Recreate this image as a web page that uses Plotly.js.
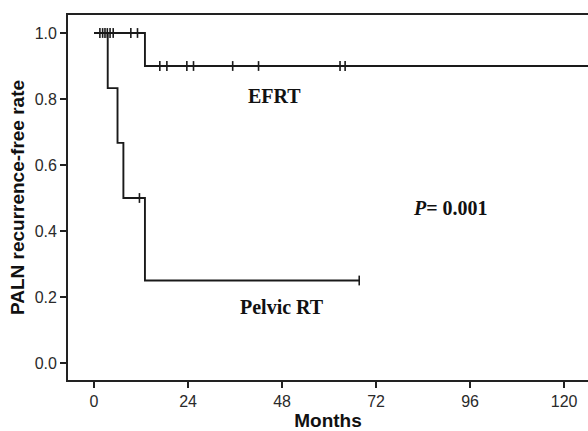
<!DOCTYPE html>
<html>
<head>
<meta charset="utf-8">
<script src="https://cdn.plot.ly/plotly-3.0.1.min.js"></script>
<style>html,body{margin:0;padding:0;background:#fff;overflow:hidden;}</style>
</head>
<body>
<div id="chart" style="width:588px;height:431px;"></div>
<script>
// Kaplan-Meier step curves (months, survival)
const efrtTimes = [0, 13, 130];
const efrtSurv = [1.0, 0.9, 0.9];
const efrtCensorTimes = [1.5, 2.2, 2.8, 3.4, 4.1, 4.9, 9.4, 11.1, 16.8, 18.6, 23.7, 25.4, 35.4, 42.0, 62.8, 64.1];
const efrtCensorSurv = [1, 1, 1, 1, 1, 1, 1, 1, 0.9, 0.9, 0.9, 0.9, 0.9, 0.9, 0.9, 0.9];

const pelvicTimes = [0, 3.5, 6.0, 7.5, 13.0, 67.7];
const pelvicSurv = [1.0, 0.833, 0.667, 0.5, 0.25, 0.25];
const pelvicCensorTimes = [11.6, 67.7];
const pelvicCensorSurv = [0.5, 0.25];

const xTicks = [0, 24, 48, 72, 96, 120];
const yTicks = [0.0, 0.2, 0.4, 0.6, 0.8, 1.0];

const lineCol = '#1a1a1a';
const traces = [
  {x: efrtTimes, y: efrtSurv, mode: 'lines', line: {shape: 'hv', color: lineCol, width: 1.9}, hoverinfo: 'skip'},
  {x: pelvicTimes, y: pelvicSurv, mode: 'lines', line: {shape: 'hv', color: lineCol, width: 1.9}, hoverinfo: 'skip'},
  {x: efrtCensorTimes, y: efrtCensorSurv, mode: 'markers',
   marker: {symbol: 'line-ns', size: 7, line: {width: 1.6, color: lineCol}}, hoverinfo: 'skip'},
  {x: pelvicCensorTimes, y: pelvicCensorSurv, mode: 'markers',
   marker: {symbol: 'line-ns', size: 7, line: {width: 1.6, color: lineCol}}, hoverinfo: 'skip'}
];

const layout = {
  width: 588, height: 431,
  margin: {l: 68, r: 0, t: 15, b: 51},
  paper_bgcolor: '#fff', plot_bgcolor: '#fff',
  showlegend: false,
  xaxis: {
    range: [-6.64, 126.1], tickvals: xTicks, ticktext: xTicks.map(String),
    showgrid: false, zeroline: false, showline: true, mirror: true,
    linecolor: '#222', linewidth: 1.9,
    ticks: 'outside', ticklen: 6, tickwidth: 1.7, tickcolor: '#222',
    tickfont: {family: 'Liberation Sans, Arial, sans-serif', size: 16, color: '#2a2a2a'},
    title: {text: 'Months', standoff: 5, font: {family: 'Liberation Sans, Arial, sans-serif', size: 19, color: '#111', weight: 'bold'}}
  },
  yaxis: {
    range: [-0.0515, 1.0545], tickvals: yTicks, ticktext: yTicks.map(v => v.toFixed(1)),
    showgrid: false, zeroline: false, showline: true, mirror: false,
    linecolor: '#222', linewidth: 1.9,
    ticks: 'outside', ticklen: 6, tickwidth: 1.7, tickcolor: '#222',
    tickfont: {family: 'Liberation Sans, Arial, sans-serif', size: 16, color: '#2a2a2a'},
    title: {text: 'PALN recurrence-free rate', standoff: 5, font: {family: 'Liberation Sans, Arial, sans-serif', size: 19, color: '#111', weight: 'bold'}}
  },
  annotations: [
    {x: 46, y: 0.81, xref: 'x', yref: 'y', text: '<b>EFRT</b>', showarrow: false,
     font: {family: 'Liberation Serif, Times New Roman, serif', size: 20, color: '#111'}},
    {x: 48, y: 0.17, xref: 'x', yref: 'y', text: '<b>Pelvic RT</b>', showarrow: false,
     font: {family: 'Liberation Serif, Times New Roman, serif', size: 20, color: '#111'}},
    {x: 90.9, y: 0.47, xref: 'x', yref: 'y', text: '<b><i>P</i>= 0.001</b>', showarrow: false,
     font: {family: 'Liberation Serif, Times New Roman, serif', size: 20, color: '#111'}}
  ]
};

Plotly.newPlot('chart', traces, layout, {staticPlot: true, displayModeBar: false});
</script>
</body>
</html>
